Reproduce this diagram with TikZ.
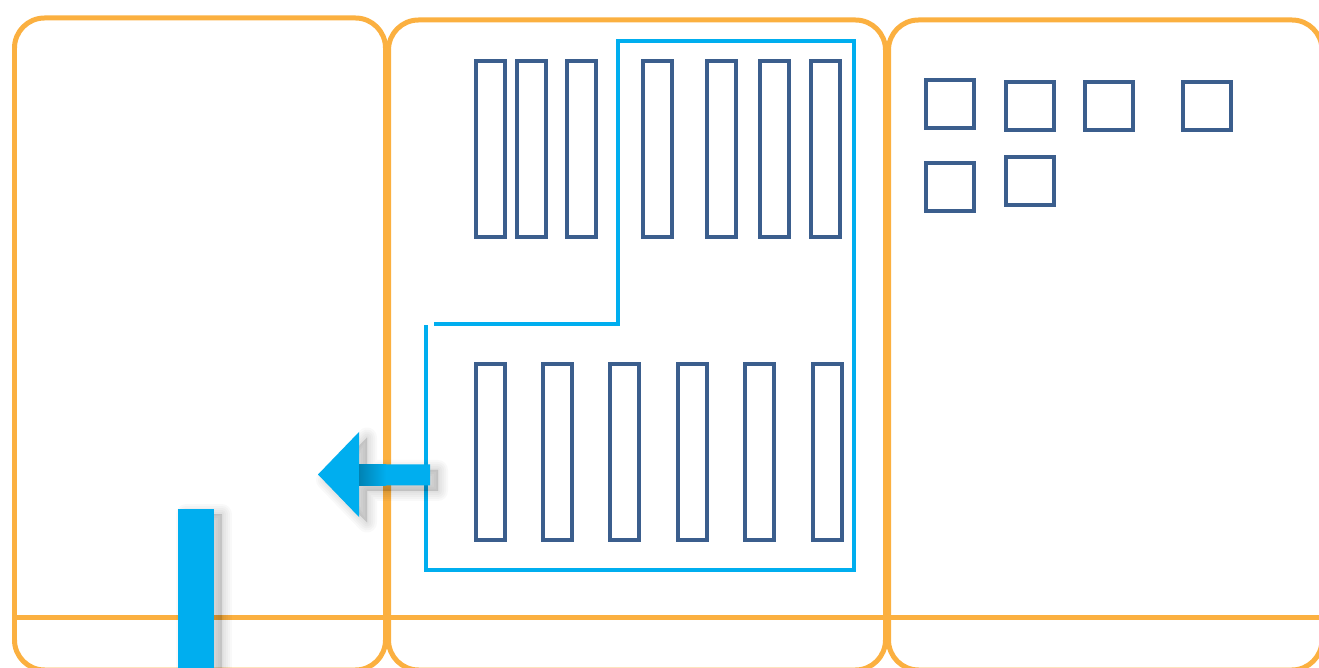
\documentclass[tikz,border=0pt]{standalone}
\definecolor{zoneorange}{HTML}{FBB040}
\definecolor{flowblue}{HTML}{00AEEF}
\definecolor{rackblue}{HTML}{3B5E8D}

\begin{document}
\begin{tikzpicture}[x=0.02cm, y=-0.02cm,
  zone/.style={draw=zoneorange, line width=0.1cm, rounded corners=0.6cm},
  rack/.style={draw=rackblue, line width=0.08cm, fill=white, inner sep=0pt, minimum width=0.58cm, minimum height=3.52cm},
  bin/.style={draw=rackblue, line width=0.08cm, fill=white, inner sep=0pt, minimum size=0.96cm},
  flow/.style={draw=flowblue, line width=0.08cm},
  shadow layer/.style={preaction={draw=black, fill=black, line join=round, draw opacity=0.025, fill opacity=0.025,
    line width=#1, transform canvas={shift={(0.16cm,-0.11cm)}}}},
  soft shadow/.style={shadow layer=0.4cm, shadow layer=0.32cm, shadow layer=0.24cm, shadow layer=0.16cm,
    shadow layer=0.08cm, shadow layer=0.02cm}]
  \useasboundingbox (0,0) rectangle (1319,668);
  \clip (0,0) rectangle (1319,668);
  % Zones
  \draw[zone] (14.5,18) rectangle (385.5,670);
  \draw[zone] (388.5,20) rectangle (885.5,670);
  \draw[zone] (888.5,20) rectangle (1322,670);
  \draw[zone] (14.5,617.5) -- (1319,617.5);
  % Racks, upper row
  \foreach \x [count=\i] in {490.5,531.5,581.5,657.5,721.5,774.5,825.5} {
    \node[rack] (up\i) at (\x,149) {};
  }
  % Racks, lower row
  \foreach \x [count=\i] in {490.5,557.5,624.8,692.3,759.3,827.3} {
    \node[rack] (low\i) at (\x,452) {};
  }
  % Bins
  \foreach \x/\y [count=\i] in {950/104.5,1030/106,1109/106,1207/106,950/187.5,1030/181.5} {
    \node[bin] (bin\i) at (\x,\y) {};
  }
  % Route
  \draw[flow] (434,324.5) -- (617.5,324.5) -- (617.5,41) -- (854,41) -- (854,570) -- (426,570) -- (426,325);
  % Exit arrow
  \fill[flowblue, soft shadow] (318,474.5) -- (359,432) -- (359,464.5) -- (430,464.5) -- (430,485.5)
    -- (359,485.5) -- (359,517) -- cycle;
  \shade[left color=flowblue!75!black, right color=flowblue] (359,464.5) rectangle (386,485.5);
  % Entry bar
  \fill[flowblue, soft shadow] (178,509) rectangle (214,672);
\end{tikzpicture}
\end{document}
